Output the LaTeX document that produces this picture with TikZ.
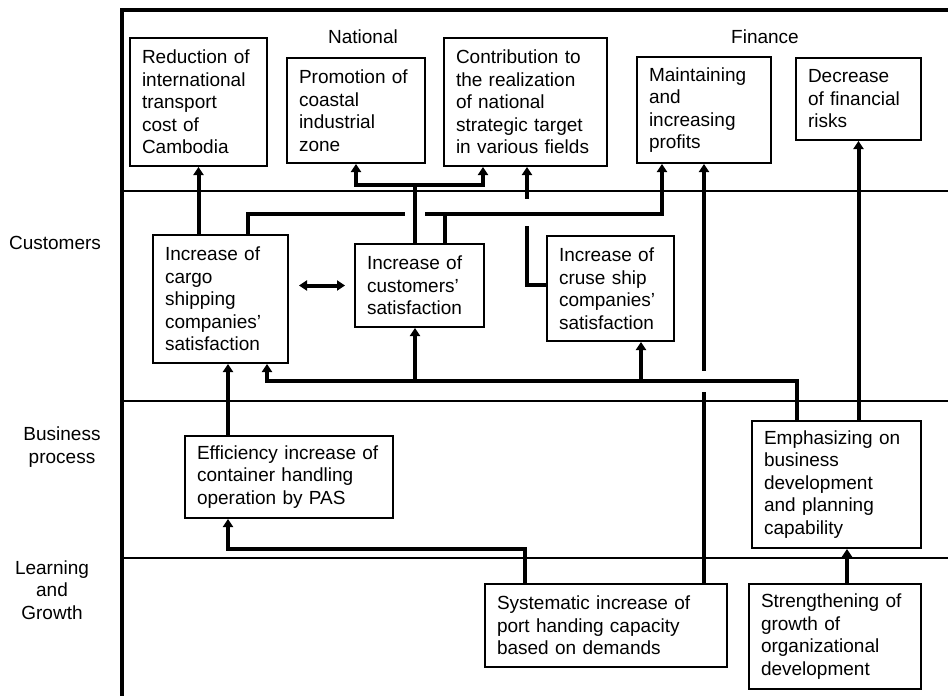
\documentclass[tikz,border=0pt]{standalone}
\usepackage{fontspec}
\setmainfont{Liberation Sans}
\usetikzlibrary{arrows.meta}

\begin{document}
\begin{tikzpicture}[x=1pt,y=-1pt,>={Triangle[length=8pt,width=10pt]},font=\fontsize{19}{22.5}\selectfont]
\tikzstyle{box}=[draw,line width=2pt,align=left,inner xsep=12pt]
\tikzstyle{lab}=[align=center,inner sep=0pt]
\tikzstyle{link}=[line width=4pt]
\tikzstyle{rule}=[line width=2pt]

\useasboundingbox (0,0) rectangle (948,696);

%--- frame and rows ---
\draw[line width=4.5pt] (122,696) -- (122,10) -- (948,10);
\draw[rule] (122,191) -- (948,191);
\draw[rule] (122,401) -- (948,401);
\draw[rule] (122,558) -- (948,558);

%--- row labels ---
\node[lab] (lnat) at (363,37) {National};
\node[lab] (lfin) at (765,37) {Finance};
\node[lab] (lcust) at (55,243) {Customers};
\node[lab] (lproc) at (62,447) {Business\\process};
\node[lab] (llearn) at (52,590) {Learning\\and\\Growth};

%--- nodes ---
\node[box,text width=113pt,minimum height=128pt] (red) at (198.5,102) {Reduction of\\international\\transport\\cost of\\Cambodia};
\node[box,text width=114pt,minimum height=105pt] (prom) at (356,110.5) {Promotion of\\coastal\\industrial\\zone};
\node[box,text width=139pt,minimum height=128pt] (contr) at (525.5,102) {Contribution to\\the realization\\of national\\strategic target\\in various fields};
\node[box,text width=110pt,minimum height=106pt] (maint) at (704,110) {Maintaining\\and\\increasing\\profits};
\node[box,text width=101pt,minimum height=82pt] (decr) at (858.5,99) {Decrease\\of financial\\risks};

\node[box,text width=111pt,minimum height=128pt] (cargo) at (220.5,299) {Increase of\\cargo\\shipping\\companies'\\satisfaction};
\node[box,text width=105pt,minimum height=83pt] (csat) at (419.5,285.5) {Increase of\\customers'\\satisfaction};
\node[box,text width=103pt,minimum height=105pt] (cruse) at (610.5,288.5) {Increase of\\cruse ship\\companies'\\satisfaction};

\node[box,text width=184pt,minimum height=82pt] (eff) at (289,477) {Efficiency increase of\\container handling\\operation by PAS};
\node[box,text width=145pt,minimum height=127pt] (emph) at (836.5,484.5) {Emphasizing on\\business\\development\\and planning\\capability};

\node[box,text width=218pt,minimum height=83pt] (sys) at (606,625.5) {Systematic increase of\\port handing capacity\\based on demands};
\node[box,text width=148pt,minimum height=105pt] (strg) at (835,636.5) {Strengthening of\\growth of\\organizational\\development};

%--- levels of the connector runs ---
\coordinate (fork) at (0,185);
\coordinate (upper) at (0,214);
\coordinate (feed) at (0,381);
\coordinate (base) at (0,549);

%--- connections ---
% capacity -> profits, broken where the feed line crosses
\draw[link,->] (maint.south |- sys.north) -- (maint.south);
\fill[white] (698,371) rectangle (710,392);

% business development -> customers row
\draw[link,->] ([xshift=-39.5pt]emph.north) |- ([xshift=46.5pt]cargo.south |- feed) -- ([xshift=46.5pt]cargo.south);
\draw[link,->] ([xshift=-4.5pt]csat.south |- feed) -- ([xshift=-4.5pt]csat.south);
\draw[link,->] ([xshift=30.5pt]cruse.south |- feed) -- ([xshift=30.5pt]cruse.south);

% cruise ship -> national target
\draw[link,->] ([yshift=3.5pt]cruse.west) -| ([xshift=1.5pt]contr.south);
\fill[white] (521,199) rectangle (533,226);

% cargo and customers -> profits
\draw[link,->] ([xshift=27.5pt]cargo.north) |- ([xshift=-42pt]maint.south |- upper) -- ([xshift=-42pt]maint.south);
\draw[link] ([xshift=25.5pt]csat.north) -- ([xshift=25.5pt]csat.north |- upper);
\fill[white] (405,208) rectangle (425,220);

% customers -> national
\draw[link,->] ([xshift=-4.5pt]csat.north) |- (prom.south |- fork) -- (prom.south);
\draw[link,->] ([xshift=-4.5pt]csat.north |- fork) -| ([xshift=-42.5pt]contr.south);

% the rest
\draw[link,->] (red.south |- cargo.north) -- (red.south);
\draw[link,<->] ([xshift=10pt]cargo.east |- csat.west) -- ([xshift=-9pt]csat.west);
\draw[link,->] (decr.south |- emph.north) -- (decr.south);
\draw[link,->] ([xshift=-61pt]eff.north) -- ([xshift=-61pt]eff.north |- cargo.south);
\draw[link,->] ([xshift=-81pt]sys.north) |- ([xshift=-61pt]eff.south |- base) -- ([xshift=-61pt]eff.south);
\draw[link,->] ([xshift=12pt]strg.north) -- ([xshift=12pt]strg.north |- emph.south);

\end{tikzpicture}
\end{document}
